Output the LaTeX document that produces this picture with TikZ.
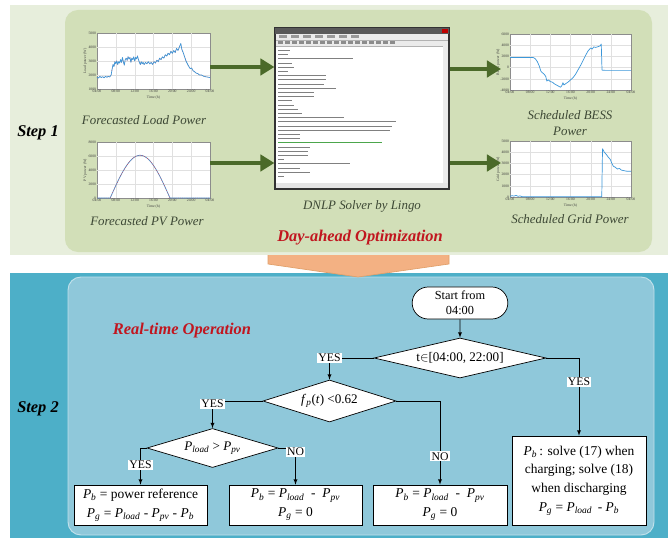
\documentclass[tikz,border=0pt]{standalone}
\usepackage{fontspec}
\setmainfont{Liberation Serif}
\usetikzlibrary{positioning,shapes.geometric,shapes.misc,arrows.meta}

\definecolor{stepgreen}{HTML}{E7EEDC}
\definecolor{panelgreen}{HTML}{D2DFB8}
\definecolor{arrowgreen}{HTML}{4B6A29}
\definecolor{stepblue}{HTML}{4DAFC8}
\definecolor{panelblue}{HTML}{8FC8DA}
\definecolor{daybridge}{HTML}{F3B183}
\definecolor{titlered}{HTML}{C1161F}
\definecolor{captiongray}{HTML}{3D4835}
\definecolor{curveblue}{HTML}{3C97D9}

\newcommand{\pw}[1]{\textit{P}\textsubscript{\textit{#1}}}

\begin{document}
\begin{tikzpicture}[x=0.03cm,y=-0.03cm,
    flow/.style={draw,line width=0.6pt,fill=white,align=center,inner sep=1pt,
      font=\fontsize{11.5}{16}\selectfont},
    decide/.style={flow,diamond,inner sep=0pt,aspect=#1,font=\fontsize{11.2}{13}\selectfont},
    answer/.style={fill=white,inner sep=1pt,font=\fontsize{10}{11}\selectfont},
    link/.style={-latex,line width=0.6pt},
    bigarrow/.style={arrowgreen,line width=3.4pt,-{Triangle[length=12pt,width=14pt]}},
    capt/.style={captiongray,font=\fontsize{11}{13}\selectfont\itshape,align=center},
    headline/.style={titlered,font=\fontsize{14}{16}\selectfont\bfseries\itshape},
    stepname/.style={font=\fontsize{14}{16}\selectfont\bfseries\itshape},
    plotbox/.style={draw=black!45,fill=white,line width=0.3pt},
    gridline/.style={black!12,line width=0.25pt},
    ticklabel/.style={font=\fontsize{3.2}{3.6}\selectfont,inner sep=0.6pt,text=black!75},
    trace/.style={curveblue,line width=0.6pt,line join=round},
    forecast/.style={red!80,line width=0.3pt,dash pattern=on 0.7pt off 0.9pt}]

\useasboundingbox (0,0) rectangle (668,538);

% backgrounds of the two steps
\fill[stepgreen] (10,5) rectangle (668,255);
\fill[panelgreen,rounded corners=11pt] (65,10) rectangle (652,252);
\fill[stepblue] (10,273) rectangle (668,538);
\filldraw[fill=panelblue,draw=white!45!panelblue,line width=0.8pt,rounded corners=11pt] (68,277) rectangle (654,535);
\fill[daybridge] (268,255) -- (268,264) -- (358,277) -- (449,264) -- (449,255) -- cycle;
\draw[daybridge!65!brown,line width=0.6pt] (268,255) -- (268,264) -- (358,277) -- (449,264) -- (449,255);

\node[stepname] (step1) at (38,133) {Step 1};
\node[stepname] (step2) at (38,409) {Step 2};

% forecasted load
\begin{scope}[shift={(97,103)},x=0.14125cm,y=0.42cm]
  \draw[plotbox] (0,1) rectangle (24,5);
  \foreach \h in {4,8,...,20} \draw[gridline] (\h,1) -- (\h,5);
  \foreach \v in {2,3,4} \draw[gridline] (0,\v) -- (24,\v);
  \foreach \h/\t in {0/04:00,4/08:00,8/12:00,12/16:00,16/20:00,20/24:00,24/04:00}
    \node[ticklabel,below] at (\h,1) {\t};
  \foreach \v in {1,...,5} \node[ticklabel,left] at (0,\v) {\v000};
  \node[ticklabel,below=5pt] at (12,1) {Time (h)};
  \node[ticklabel,rotate=90] at ([xshift=-10pt]0,3) {Load power (W)};
  \foreach \s in {forecast,trace}
    \draw[\s] plot coordinates {(0,1.85) (0.3,1.78) (0.6,1.9) (0.9,1.82) (1.2,1.88) (1.5,1.8) (1.8,1.9)
      (2.1,1.84) (2.4,1.9) (2.7,1.86) (3,2.0) (3.2,2.4) (3.4,2.75) (3.6,2.6) (3.8,2.95) (4,2.8)
      (4.2,3.0) (4.4,2.75) (4.6,2.95) (4.8,2.85) (5,3.1) (5.2,2.9) (5.4,3.25) (5.6,2.95) (5.8,2.7)
      (6,3.1) (6.2,3.2) (6.4,3.05) (6.6,3.3) (6.8,3.15) (7,3.25) (7.2,2.9) (7.4,3.2) (7.6,3.1)
      (7.8,3.3) (8,3.0) (8.2,3.25) (8.4,3.15) (8.6,3.35) (8.8,3.1) (9,2.9) (9.2,2.75) (9.4,2.95)
      (9.6,2.8) (9.8,2.9) (10,2.75) (10.3,2.9) (10.6,2.8) (10.9,2.95) (11.2,2.8) (11.5,2.9)
      (11.8,2.75) (12.1,2.95) (12.4,2.85) (12.7,3.05) (13,2.95) (13.3,3.2) (13.6,3.1) (13.9,3.3)
      (14.2,3.2) (14.5,3.45) (14.8,3.35) (15.1,3.55) (15.4,3.45) (15.7,3.7) (16,3.55) (16.3,3.75)
      (16.6,3.6) (16.9,3.9) (17.2,3.75) (17.5,4.0) (17.8,4.25) (18.0,3.85) (18.3,3.6) (18.6,3.3)
      (18.9,3.0) (19.2,2.8) (19.5,2.6) (19.8,2.45) (20.1,2.5) (20.4,2.3) (20.7,2.25) (21,2.15)
      (21.4,2.1) (21.8,2.0) (22.2,2.0) (22.6,1.92) (23,1.88) (23.5,1.85) (24,1.82)};
\end{scope}
\node[capt] (loadcap) at (144,120) {Forecasted Load Power};

% forecasted pv
\begin{scope}[shift={(97,198)},x=0.14125cm,y=0.21cm]
  \draw[plotbox] (0,0) rectangle (24,8);
  \foreach \h in {4,8,...,20} \draw[gridline] (\h,0) -- (\h,8);
  \foreach \v in {2,4,6} \draw[gridline] (0,\v) -- (24,\v);
  \foreach \h/\t in {0/04:00,4/08:00,8/12:00,12/16:00,16/20:00,20/24:00,24/04:00}
    \node[ticklabel,below] at (\h,0) {\t};
  \foreach \v/\t in {0/0,2/2000,4/4000,6/6000,8/8000} \node[ticklabel,left] at (0,\v) {\t};
  \node[ticklabel,below=5pt] at (12,0) {Time (h)};
  \node[ticklabel,rotate=90] at ([xshift=-10pt]0,4) {PV power (W)};
  \foreach \s in {trace,forecast}
    \draw[\s] (0,0) -- (2.8,0) -- plot[domain=2.8:15.5,samples=40] (\x,{6.1*sin(180*(\x-2.8)/12.7)}) -- (24,0);
\end{scope}
\node[capt] (pvcap) at (147,221) {Forecasted PV Power};

% Lingo model window
\node[draw=black!80,line width=1pt,fill=white,minimum width=5.22cm,minimum height=4.83cm,inner sep=0] (lingo) at (362,108.5) {};
\fill[black!65] (275,28) rectangle (449,34);
\fill[red!75!black] (442,29) rectangle (448,33);
\fill[black!8] (276,34) rectangle (448,46);
\draw[black!30,line width=0.3pt] (276,40) -- (448,40) (276,46) -- (448,46);
\foreach \k in {0,...,6} \fill[black!40] ({279+12*\k},35.5) rectangle ++(8,2.5);
\foreach \k in {0,...,16} \fill[black!45] ({278+7*\k},41.5) rectangle ++(4.5,3);
\fill[black!8] (443,46) rectangle (448,183);
\fill[black!10] (276,183) rectangle (448,188);
\foreach \i/\len/\c in {1/12/black!50,2/10/black!50,3/75/black!50,4/14/black!50,5/16/black!50,
    6/10/black!50,7/48/black!50,8/48/black!50,9/46/black!50,10/58/black!50,11/36/black!50,
    12/36/black!50,13/14/black!50,14/16/black!50,15/20/black!50,16/24/black!50,17/66/black!50,
    18/118/black!50,19/114/black!50,20/112/black!50,21/22/black!50,22/22/black!50,
    23/104/green!50!black!70,24/32/black!50,25/30/black!50,26/30/black!50,27/6/black!50,
    28/72/black!50,29/22/black!50,30/32/black!50,31/6/black!50}
  \draw[\c,line width=0.5pt] (278,{46+4.2*\i}) -- ++(\len,0);
\node[capt] (lingocap) at (362,206) {DNLP Solver by Lingo};

% scheduled bess
\begin{scope}[shift={(510,67.6)},x=0.15125cm,y=0.168cm]
  \draw[plotbox] (0,-4) rectangle (24,6);
  \foreach \h in {4,8,...,20} \draw[gridline] (\h,-4) -- (\h,6);
  \foreach \v in {-2,0,2,4} \draw[gridline] (0,\v) -- (24,\v);
  \foreach \h/\t in {0/04:00,4/08:00,8/12:00,12/16:00,16/20:00,20/24:00,24/04:00}
    \node[ticklabel,below] at (\h,-4) {\t};
  \foreach \v/\t in {-4/-4000,-2/-2000,0/0,2/2000,4/4000,6/6000} \node[ticklabel,left] at (0,\v) {\t};
  \node[ticklabel,below=5pt] at (12,-4) {Time (h)};
  \node[ticklabel,rotate=90] at ([xshift=-10pt]0,1) {BESS power (W)};
  \draw[trace] plot coordinates {(0,1.8) (4.6,1.8) (5,1.6) (5.4,1.1) (5.8,0.3) (6.1,-0.6) (6.4,-0.9)
    (6.8,-1.2) (7.1,-1.6) (7.3,-2.4) (7.6,-2.2) (8,-2.5) (8.4,-2.6) (8.8,-2.9) (9.2,-3.1) (9.6,-3.3)
    (10,-3.5) (10.3,-3.2) (10.5,-2.7) (10.7,-3.1) (11,-2.9) (11.5,-2.6) (12,-2.2) (12.5,-1.8)
    (13,-1.2) (13.5,-0.4) (14,0.4) (14.5,1.3) (15,2.2) (15.5,3.0) (16,3.5) (16.3,3.3) (16.6,3.7)
    (17,3.6) (17.5,3.75) (17.9,3.9) (18.1,4.2) (18.25,-0.45) (19,-0.5) (24,-0.5)};
\end{scope}
\node[capt] (besscap) at (570,123) {Scheduled BESS\\Power};

% scheduled grid
\begin{scope}[shift={(510,197)},x=0.15125cm,y=0.336cm]
  \draw[plotbox] (0,0) rectangle (24,5);
  \foreach \h in {4,8,...,20} \draw[gridline] (\h,0) -- (\h,5);
  \foreach \v in {1,...,4} \draw[gridline] (0,\v) -- (24,\v);
  \foreach \h/\t in {0/04:00,4/08:00,8/12:00,12/16:00,16/20:00,20/24:00,24/04:00}
    \node[ticklabel,below] at (\h,0) {\t};
  \foreach \v/\t in {0/0,1/1000,2/2000,3/3000,4/4000,5/5000} \node[ticklabel,left] at (0,\v) {\t};
  \node[ticklabel,below=5pt] at (12,0) {Time (h)};
  \node[ticklabel,rotate=90] at ([xshift=-10pt]0,2.5) {Grid power (W)};
  \draw[trace] plot coordinates {(0,0.05) (0.4,0.12) (0.8,0.08) (1.2,0.14) (1.6,0.06) (2,0.1)
    (2.4,0.03) (3,0.02) (18.2,0.02) (18.35,4.3) (18.7,4.0) (19.1,3.8) (19.5,3.55) (19.9,3.35)
    (20.2,3.0) (20.5,2.75) (20.9,2.65) (21.3,2.5) (21.7,2.55) (22.1,2.4) (22.6,2.35) (23.2,2.3) (24,2.3)};
\end{scope}
\node[capt] (gridcap) at (570,219) {Scheduled Grid Power};

% day-ahead arrows
\coordinate (loadout) at (210,67);
\coordinate (pvout) at (210,163);
\coordinate (bessin) at (501,69);
\coordinate (gridin) at (501,163);
\draw[bigarrow] (loadout) -- (loadout -| lingo.west);
\draw[bigarrow] (pvout) -- (pvout -| lingo.west);
\draw[bigarrow] (bessin -| lingo.east) -- (bessin);
\draw[bigarrow] (gridin -| lingo.east) -- (gridin);

\node[headline] (dayahead) at (360,238) {Day-ahead Optimization};
\node[headline] (realtime) at (182,331) {Real-time Operation};

% real-time flowchart
\node[flow,rounded rectangle,minimum width=2.94cm,minimum height=0.96cm,
  font=\fontsize{10.5}{13}\selectfont] (start) at (460,303) {Start from\\04:00};
\node[decide=4.3,minimum width=5.16cm,minimum height=1.2cm] (tcheck) at (460,358) {t$\in$[04:00, 22:00]};
\node[decide=3.2,minimum width=3.99cm,minimum height=1.26cm] (fcheck) at (329.5,401)
  {\textit{f}\textsubscript{\textit{p}}(\textit{t}) <0.62};
\node[decide=3.4,minimum width=3.93cm,minimum height=1.17cm] (pcheck) at (212.5,448) {\pw{load} > \pw{pv}};
\node[flow,minimum width=3.99cm,minimum height=1.2cm] (refbox) at (140.5,505)
  {\pw{b} = power reference\\\pw{g} = \pw{load} - \pw{pv} - \pw{b}};
\node[flow,minimum width=3.99cm,minimum height=1.2cm] (pvbox) at (295.5,505)
  {\pw{b} = \pw{load} \ - \ \pw{pv}\\\pw{g} = 0};
\node[flow,minimum width=4.02cm,minimum height=1.2cm] (daybox) at (440,505)
  {\pw{b} = \pw{load} \ - \ \pw{pv}\\\pw{g} = 0};
\node[flow,minimum width=4.02cm,minimum height=2.67cm] (nightbox) at (579,480.5)
  {\pw{b}\,: solve (17) when\\charging; solve (18)\\when discharging\\\pw{g} = \pw{load} \,- \pw{b}};

\draw[link] (start) -- (tcheck);
\draw[link] (tcheck.west) -| node[answer,pos=0.5]{YES} (fcheck.north);
\draw[link] (tcheck.east) -| node[answer,pos=0.655]{YES} (nightbox.north);
\draw[link] (fcheck.west) -| node[answer,pos=0.55]{YES} (pcheck.north);
\draw[link] (fcheck.east) -| node[answer,pos=0.83]{NO} (daybox.north);
\draw[link] (pcheck.west) -| node[answer,pos=0.73]{YES} (refbox.north);
\draw[link] (pcheck.east) -| node[answer,pos=0.55]{NO} (pvbox.north);
\end{tikzpicture}
\end{document}
